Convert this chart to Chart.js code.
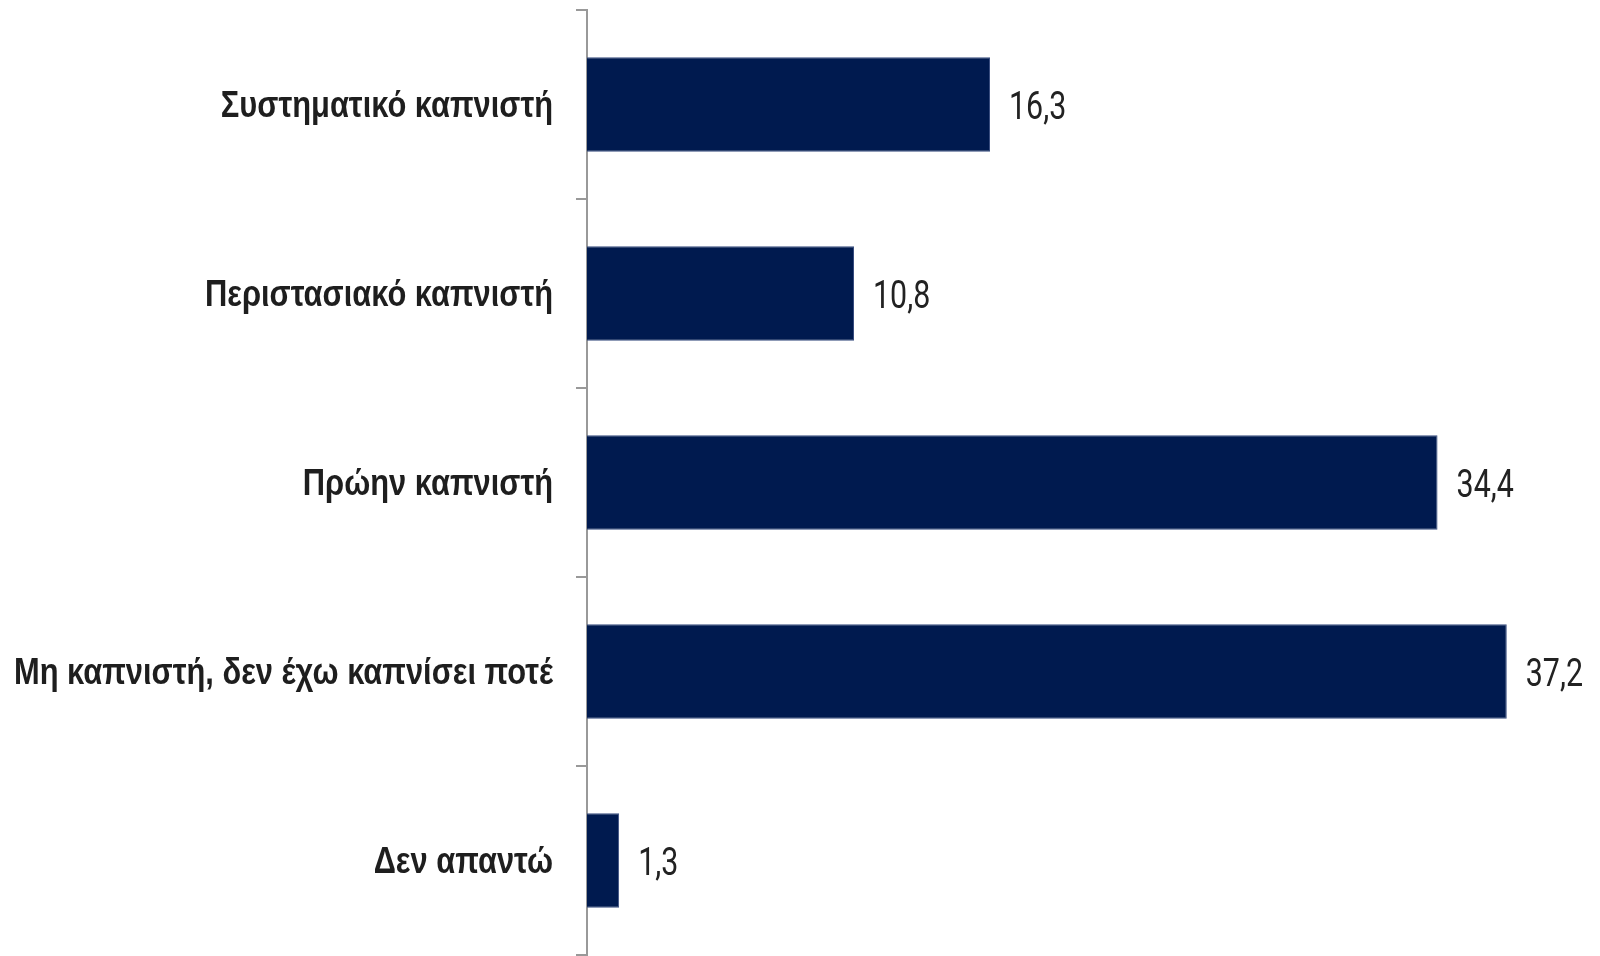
<!DOCTYPE html>
<html>
<head>
<meta charset="utf-8">
<script src="https://cdn.jsdelivr.net/npm/chart.js@4"></script>
<style>
    html, body { margin: 0; padding: 0; background: #fff; }
    #wrap { width: 1600px; height: 956px; }
</style>
</head>
<body>
<div id="wrap"><canvas id="chart"></canvas></div>
<script>
const categories = [
    'Συστηματικό καπνιστή',
    'Περιστασιακό καπνιστή',
    'Πρώην καπνιστή',
    'Μη καπνιστή, δεν έχω καπνίσει ποτέ',
    'Δεν απαντώ'
];
const values = [16.3, 10.8, 34.4, 37.2, 1.3];

// no condensed fonts installed, so squeeze normal ones sideways
const labelFont = "bold 37px 'Liberation Sans', Arial, sans-serif";
const valueFont = "38px Roboto, 'Liberation Sans', sans-serif";
const valueSqueeze = 0.8;
const labelRight = 553;
const labelWidest = 539;

const drawText = {
    id: 'drawText',
    afterDatasetsDraw(chart) {
        const ctx = chart.ctx;
        const yScale = chart.scales.y;
        const meta = chart.getDatasetMeta(0);
        ctx.save();

        // category labels
        ctx.font = labelFont;
        ctx.fillStyle = '#1e1e1e';
        ctx.textAlign = 'right';
        ctx.textBaseline = 'alphabetic';
        const widest = Math.max(...categories.map(c => ctx.measureText(c).width));
        const labelSqueeze = labelWidest / widest;
        categories.forEach((label, i) => {
            const y = yScale.getPixelForTick(i);
            ctx.save();
            ctx.translate(labelRight, y + 12);
            ctx.scale(labelSqueeze, 1);
            ctx.fillText(label, 0, 0);
            ctx.restore();
        });

        // value labels
        ctx.font = valueFont;
        ctx.fillStyle = '#222222';
        ctx.textAlign = 'left';
        meta.data.forEach((bar, i) => {
            const text = values[i].toFixed(1).replace('.', ',');
            ctx.save();
            ctx.translate(bar.x + 19, bar.y + 14);
            ctx.scale(valueSqueeze, 1);
            ctx.fillText(text, 0, 0);
            ctx.restore();
        });
        ctx.restore();
    }
};

const ctx = document.getElementById('chart').getContext('2d');
const chart = new Chart(ctx, {
    type: 'bar',
    data: {
        labels: categories,
        datasets: [{
            data: values,
            backgroundColor: '#001a4f',
            borderColor: '#3a4f80',
            borderWidth: 1,
            barPercentage: 1,
            categoryPercentage: 0.5
        }]
    },
    options: {
        indexAxis: 'y',
        responsive: true,
        maintainAspectRatio: false,
        animation: false,
        layout: {
            padding: { top: 10, bottom: 1, left: 0, right: 24 }
        },
        plugins: {
            legend: { display: false },
            tooltip: { enabled: false }
        },
        scales: {
            x: {
                display: false,
                min: 0,
                max: 40
            },
            y: {
                offset: true,
                afterFit(scale) {
                    scale.width = 587;
                    scale.paddingTop = 0;
                    scale.paddingBottom = 0;
                },
                border: { display: true, color: '#999999', width: 2 },
                grid: {
                    offset: true,
                    drawOnChartArea: false,
                    drawTicks: true,
                    tickLength: 11,
                    color: '#999999',
                    lineWidth: 2
                },
                ticks: {
                    display: false
                }
            }
        }
    },
    plugins: [drawText]
});
</script>
</body>
</html>
